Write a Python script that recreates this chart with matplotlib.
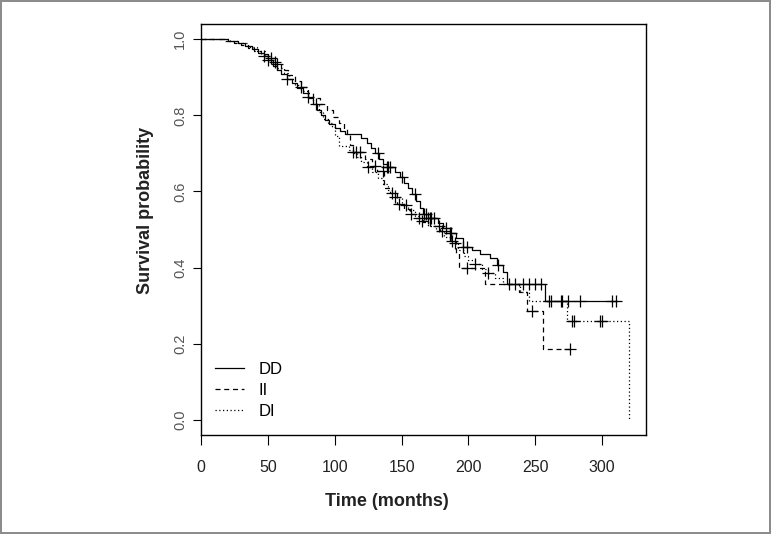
import numpy as np
import matplotlib
matplotlib.use('Agg')
import matplotlib.pyplot as plt

plt.rcParams['font.family'] = ['Liberation Sans', 'DejaVu Sans']

# Kaplan-Meier step points (time in months, survival)
dd_time = [0, 20, 28, 33, 38, 43, 47, 50, 54, 57, 60, 64, 68, 72, 76, 80, 84, 87, 90, 93,
           96, 100, 104, 108, 120, 124, 127, 130, 133, 136, 139, 145, 149, 152, 155, 158,
           161, 164, 166, 170, 177, 181, 186, 191, 196, 203, 209, 216, 221, 226, 229, 257.5]
dd_surv = [1.0, 0.995, 0.99, 0.983, 0.975, 0.965, 0.955, 0.945, 0.93, 0.92, 0.908, 0.895,
           0.885, 0.872, 0.86, 0.845, 0.83, 0.815, 0.80, 0.787, 0.777, 0.767, 0.758, 0.752,
           0.74, 0.728, 0.715, 0.70, 0.685, 0.672, 0.664, 0.65, 0.637, 0.622, 0.61, 0.592,
           0.575, 0.557, 0.54, 0.531, 0.518, 0.504, 0.49, 0.477, 0.455, 0.447, 0.435, 0.424,
           0.407, 0.389, 0.358, 0.312]
dd_cens = [47, 50, 64, 86, 132, 139, 140, 141, 150, 160, 167, 168.5, 170, 171, 172, 174,
           183, 186, 187, 196, 199, 222, 235, 241, 245, 250, 254, 260, 261.5, 269, 270,
           274.7, 283.7, 307.4, 310]

ii_time = [0, 18, 25, 30, 35, 40, 45, 50, 55, 60, 65, 70, 75, 80, 84, 89, 94, 99, 103,
           107, 109, 111.5, 114, 123, 127.8, 131.5, 136.5, 141.5, 146.5, 152, 156.4, 161,
           166, 171, 179, 186, 191, 192.6, 212.6, 238, 244, 255.7]
ii_surv = [1.0, 0.996, 0.99, 0.985, 0.977, 0.97, 0.96, 0.95, 0.935, 0.92, 0.905, 0.89,
           0.875, 0.86, 0.845, 0.83, 0.814, 0.795, 0.78, 0.765, 0.752, 0.721, 0.703, 0.685,
           0.668, 0.655, 0.61, 0.597, 0.566, 0.553, 0.54, 0.531, 0.52, 0.509, 0.495, 0.469,
           0.438, 0.398, 0.358, 0.335, 0.285, 0.187]
ii_cens = [52, 57, 75, 114, 116, 119, 130, 136, 143, 148, 157, 163, 178, 188, 199, 247.5, 276]

di_time = [0, 22, 28, 35, 42, 48, 52, 56, 62, 66, 70, 75, 80, 84, 88, 91, 95, 98, 100, 103,
           111, 114, 117, 120, 124, 128, 132, 136, 140, 145, 150, 155, 160, 165, 170, 176,
           182, 187, 192, 197, 200, 205, 210, 215, 220, 226, 238.8, 245, 273.7, 319.8]
di_surv = [1.0, 0.995, 0.99, 0.98, 0.968, 0.955, 0.94, 0.925, 0.91, 0.895, 0.88, 0.865,
           0.848, 0.83, 0.81, 0.79, 0.78, 0.77, 0.745, 0.72, 0.71, 0.70, 0.69, 0.677, 0.665,
           0.65, 0.635, 0.62, 0.605, 0.585, 0.565, 0.55, 0.535, 0.522, 0.51, 0.495, 0.48,
           0.465, 0.445, 0.43, 0.42, 0.41, 0.395, 0.385, 0.372, 0.358, 0.336, 0.312, 0.259, 0.0]
di_cens = [55, 80, 125, 145, 153, 165, 180, 190, 205, 215, 230, 277.5, 279.2, 298.6, 300]

labels = ['DD', 'II', 'DI']
styles = ['-', (0, (4, 3)), (0, (1, 2))]


def surv_at(times, surv, t):
    idx = np.searchsorted(times, t, side='right') - 1
    return np.array(surv)[idx]


fig = plt.figure(figsize=(7.71, 5.34), dpi=100)
ax = fig.add_axes([201 / 771, 1 - 435 / 534, 445 / 771, 411 / 534])

groups = [(dd_time, dd_surv, dd_cens), (ii_time, ii_surv, ii_cens), (di_time, di_surv, di_cens)]
for (t, s, c), lab, ls in zip(groups, labels, styles):
    end = max(t[-1], max(c))
    tt = list(t) + [end]
    ss = list(s) + [s[-1]]
    ax.step(tt, ss, where='post', color='black', lw=0.9, ls=ls, label=lab)
    ax.plot(c, surv_at(t, s, c), ls='none', marker='+', ms=9, mew=0.9, color='black')

ax.set_xlim(0, 332.8)
ax.set_ylim(-0.04, 1.04)
ax.set_xticks([0, 50, 100, 150, 200, 250, 300])
ax.set_yticks([0.0, 0.2, 0.4, 0.6, 0.8, 1.0])
ax.set_yticklabels(['0.0', '0.2', '0.4', '0.6', '0.8', '1.0'], rotation=90, va='center')
ax.tick_params(axis='x', direction='out', length=7, width=0.8, pad=11, labelsize=11.5,
               labelcolor='#222222')
ax.tick_params(axis='y', direction='out', length=6, width=0.8, pad=4, labelsize=10.5,
               labelcolor='#555555')
for sp in ax.spines.values():
    sp.set_linewidth(1.0)

fig.text(386.5 / 771, 1 - 502 / 534, 'Time (months)', ha='center', va='center',
         fontsize=13, fontweight='bold', color='#222222')
fig.text(145 / 771, 1 - 210 / 534, 'Survival probability', ha='center', va='center',
         rotation=90, fontsize=13, fontweight='bold', color='#222222')

ax.legend(loc='lower left', bbox_to_anchor=(0.031, 0.04), frameon=False, fontsize=12,
          handlelength=1.75, handletextpad=0.85, labelspacing=0.35, borderpad=0,
          borderaxespad=0)

fig.patch.set_linewidth(1.5)
fig.savefig('out.png', dpi=100, edgecolor='#8c8c8c')
